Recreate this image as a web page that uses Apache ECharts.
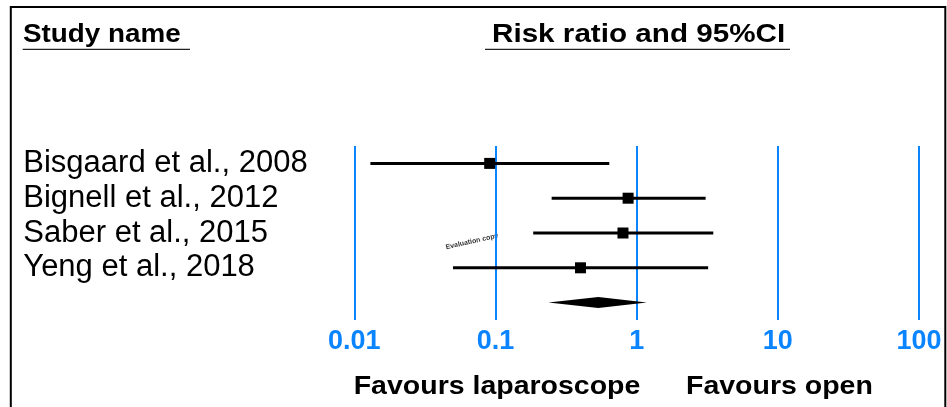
<!DOCTYPE html>
<html>
<head>
<meta charset="utf-8">
<script src="https://cdn.jsdelivr.net/npm/echarts@6/dist/echarts.min.js"></script>
<style>
  html, body { margin: 0; padding: 0; background: #ffffff; }
  #chart { width: 947px; height: 407px; }
</style>
</head>
<body>
<div id="chart"></div>
<script>
// ---- data ----
var studies = ['Bisgaard et al., 2008', 'Bignell et al., 2012', 'Saber et al., 2015', 'Yeng et al., 2018'];
var riskRatio = [0.091, 0.87, 0.80, 0.40];
var lowerCI = [0.013, 0.25, 0.185, 0.050];
var upperCI = [0.64, 3.08, 3.49, 3.21];
var pooledRR = 0.535;
var pooledLower = 0.237;
var pooledUpper = 1.18;
var tickLabels = ['0.01', '0.1', '1', '10', '100'];
var tickValues = [0.01, 0.1, 1, 10, 100];
var headerLeft = 'Study name';
var headerRight = 'Risk ratio and 95%CI';
var favoursLeft = 'Favours laparoscope';
var favoursRight = 'Favours open';

var rows = studies.concat(['']);
var studyData = studies.map(function (s, i) { return [riskRatio[i], i, lowerCI[i], upperCI[i]]; });
var pooledData = [[pooledRR, studies.length, pooledLower, pooledUpper]];

var chart = echarts.init(document.getElementById('chart'));
var BLUE = '#0a84ff';
var FONT = '"Liberation Sans", Arial, sans-serif';

chart.setOption({
  backgroundColor: '#ffffff',
  animation: false,
  grid: { left: 354.3, right: 28, top: 146, bottom: 87, containLabel: false },
  xAxis: {
    type: 'log', logBase: 10, min: 0.01, max: 100,
    axisLine: { show: false }, axisTick: { show: false },
    splitLine: { show: true, lineStyle: { color: BLUE, width: 2 } },
    axisLabel: {
      margin: 8, color: BLUE, fontSize: 27, fontWeight: 'bold', fontFamily: FONT,
      formatter: function (v) {
        for (var i = 0; i < tickValues.length; i++) {
          if (Math.abs(Math.log10(v) - Math.log10(tickValues[i])) < 1e-6) return tickLabels[i];
        }
        return '';
      }
    }
  },
  yAxis: {
    type: 'category', data: rows, inverse: true,
    axisLine: { show: false }, axisTick: { show: false }, splitLine: { show: false },
    axisLabel: { interval: 0, margin: 331, align: 'left', color: '#000', fontSize: 31, fontFamily: FONT }
  },
  series: [
    {
      type: 'custom',
      data: studyData,
      encode: { x: [0, 2, 3], y: 1 },
      renderItem: function (params, api) {
        var y = api.value(1);
        var p = api.coord([api.value(0), y]);
        var lo = api.coord([api.value(2), y]);
        var hi = api.coord([api.value(3), y]);
        var s = 11;
        return {
          type: 'group',
          children: [
            { type: 'line', shape: { x1: lo[0], y1: lo[1], x2: hi[0], y2: hi[1] }, style: { stroke: '#000', lineWidth: 3 } },
            { type: 'rect', shape: { x: p[0] - s / 2, y: p[1] - s / 2, width: s, height: s }, style: { fill: '#000' } }
          ]
        };
      }
    },
    {
      type: 'custom',
      data: pooledData,
      encode: { x: [0, 2, 3], y: 1 },
      renderItem: function (params, api) {
        var y = api.value(1);
        var p = api.coord([api.value(0), y]);
        var lo = api.coord([api.value(2), y]);
        var hi = api.coord([api.value(3), y]);
        var h = 5.5;
        return {
          type: 'polygon',
          shape: { points: [[lo[0], lo[1]], [p[0], p[1] - h], [hi[0], hi[1]], [p[0], p[1] + h]] },
          style: { fill: '#000' }
        };
      }
    }
  ],
  graphic: [
    { type: 'polyline', shape: { points: [[10.8, 407], [10.8, 7], [945.3, 7], [945.3, 407]] }, style: { stroke: '#000', lineWidth: 2, fill: null } },
    { type: 'text', x: 23, y: 35, scaleX: 1.07, style: { text: headerLeft, fill: '#000', font: 'bold 26px ' + FONT, textAlign: 'left', textVerticalAlign: 'middle' } },
    { type: 'line', shape: { x1: 22.7, y1: 49.3, x2: 190, y2: 49.3 }, style: { stroke: '#222', lineWidth: 1.3 } },
    { type: 'text', x: 492, y: 35, scaleX: 1.14, style: { text: headerRight, fill: '#000', font: 'bold 26px ' + FONT, textAlign: 'left', textVerticalAlign: 'middle' } },
    { type: 'line', shape: { x1: 485, y1: 49.3, x2: 790, y2: 49.3 }, style: { stroke: '#222', lineWidth: 1.3 } },
    { type: 'text', x: 353.7, y: 387, scaleX: 1.14, style: { text: favoursLeft, fill: '#000', font: 'bold 25px ' + FONT, textAlign: 'left', textVerticalAlign: 'middle' } },
    { type: 'text', x: 686, y: 387, scaleX: 1.14, style: { text: favoursRight, fill: '#000', font: 'bold 25px ' + FONT, textAlign: 'left', textVerticalAlign: 'middle' } },
    { type: 'text', x: 472, y: 241.5, rotation: 12.5 * Math.PI / 180, style: { text: 'Evaluation copy', fill: '#333', font: 'bold 7px ' + FONT, textAlign: 'center', textVerticalAlign: 'middle' } }
  ]
});
</script>
</body>
</html>
